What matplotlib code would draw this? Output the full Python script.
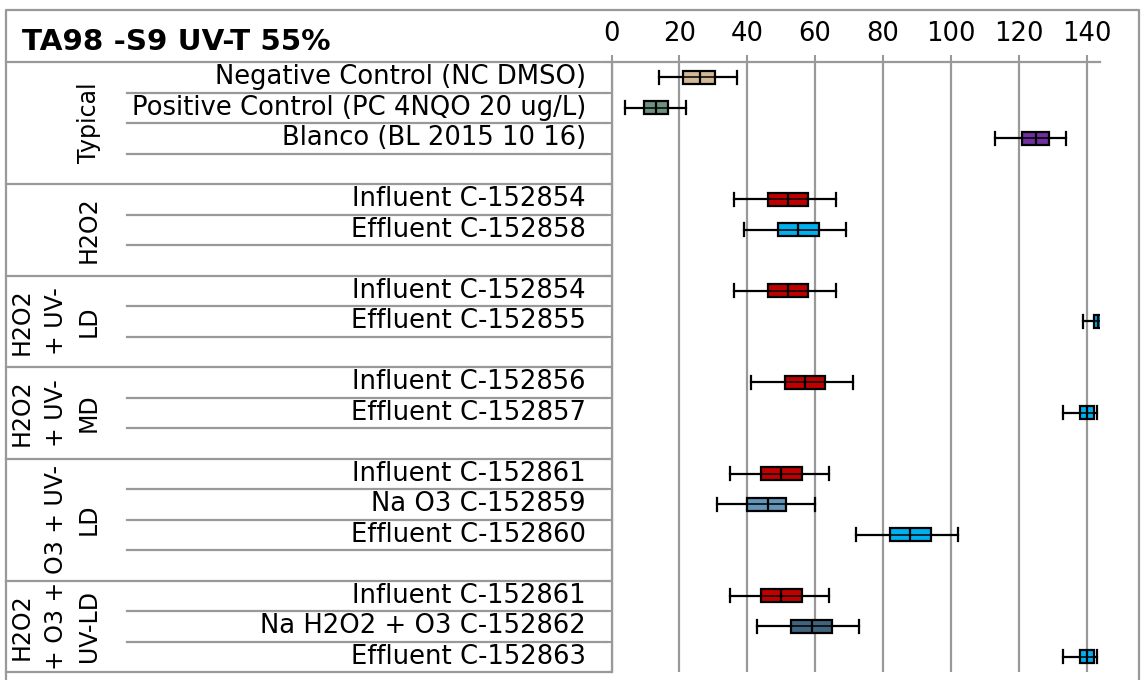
import matplotlib.pyplot as plt
from matplotlib.transforms import blended_transform_factory
from matplotlib.lines import Line2D

plt.rcParams['font.family'] = ['DejaVu Sans']

title = "TA98 -S9 UV-T 55%"

# groups and the rows inside each group ("" = spacer row)
groups = ["Typical", "H2O2", "H2O2\n+ UV-\nLD", "H2O2\n+ UV-\nMD",
          "O3 + UV-\nLD", "H2O2\n+ O3 +\nUV-LD"]
group_rows = [
    ["Negative Control (NC DMSO)", "Positive Control (PC 4NQO 20 ug/L)",
     "Blanco (BL 2015 10 16)", ""],
    ["Influent C-152854", "Effluent C-152858", ""],
    ["Influent C-152854", "Effluent C-152855", ""],
    ["Influent C-152856", "Effluent C-152857", ""],
    ["Influent C-152861", "Na O3 C-152859", "Effluent C-152860", ""],
    ["Influent C-152861", "Na H2O2 + O3 C-152862", "Effluent C-152863"],
]

# box statistics for each non-empty row, top to bottom
whis_lo = [14, 4, 113, 36, 39, 36, 139, 41, 133, 35, 31, 72, 35, 43, 133]
q1 = [21.2, 9.5, 121, 46, 49, 46, 142, 51, 138, 44, 40, 82, 44, 53, 138]
med = [26, 13, 125, 52, 55, 52, 143.2, 57, 140, 50, 46, 88, 50, 59, 140]
q3 = [30.5, 16.5, 129, 58, 61, 58, 144.2, 63, 142, 56, 51.5, 94, 56, 65, 142]
whis_hi = [37, 22, 134, 66, 69, 66, 144.2, 71, 143, 64, 60, 102, 64, 73, 143]
colors = ["#D3B896", "#6E9180", "#7030A0", "#C00000", "#00B0F0",
          "#C00000", "#00B0F0", "#C00000", "#00B0F0", "#C00000",
          "#6396B8", "#00B0F0", "#C00000", "#41647E", "#00B0F0"]

W, H = 1141, 680
GRAY = "#999999"
FS = 18.6

fig = plt.figure(figsize=(W / 100, H / 100), dpi=100)
ax = fig.add_axes([611.5 / W, 1 - 672 / H, (1100 - 611.5) / W, 610 / H])

n_rows = sum(len(r) for r in group_rows)
ax.set_ylim(n_rows, 0)
ax.set_xlim(0, 143.9)

# positions of the filled rows
positions = []
r = 0
for rows in group_rows:
    for lab in rows:
        if lab:
            positions.append(r + 0.5)
        r += 1

stats = []
for i in range(len(positions)):
    stats.append(dict(whislo=whis_lo[i], q1=q1[i], med=med[i], q3=q3[i],
                      whishi=whis_hi[i], fliers=[]))

bp = ax.bxp(stats, positions=positions, widths=0.42, vert=False,
            patch_artist=True, showfliers=False, capwidths=0.42,
            boxprops=dict(edgecolor="black", linewidth=1.6),
            whiskerprops=dict(color="black", linewidth=1.6),
            capprops=dict(color="black", linewidth=1.6),
            medianprops=dict(color="black", linewidth=1.6),
            manage_ticks=False, zorder=3)
for box, c in zip(bp['boxes'], colors):
    box.set_facecolor(c)
ax.hlines(positions, q1, q3, color="black", linewidth=1.1, zorder=4)

# axes styling
ax.xaxis.tick_top()
ax.set_xticks(range(0, 141, 20))
ax.tick_params(axis='x', direction='out', length=5, width=1.5, color=GRAY,
               labelsize=FS, pad=6)
ax.set_yticks(range(n_rows + 1))
ax.set_yticklabels([])
ax.tick_params(axis='y', direction='out', length=4, width=1.5, color=GRAY)
ax.grid(axis='x', color=GRAY, linewidth=1.6, zorder=0)
ax.set_axisbelow(True)
for s in ['right', 'bottom']:
    ax.spines[s].set_visible(False)
for s in ['top', 'left']:
    ax.spines[s].set_color(GRAY)
    ax.spines[s].set_linewidth(1.6)

# table part on the left
tr = blended_transform_factory(fig.transFigure, ax.transData)
r = 0
for g, rows in zip(groups, group_rows):
    start = r
    for k, lab in enumerate(rows):
        if lab:
            ax.text(586 / W, r + 0.5, lab, transform=tr, ha='right',
                    va='center', fontsize=FS, clip_on=False)
        r += 1
        if r < start + len(rows):
            ax.add_line(Line2D([127 / W, 607 / W], [r, r], transform=tr,
                               color=GRAY, linewidth=1.6, clip_on=False))
    ax.add_line(Line2D([6 / W, 611 / W], [r, r], transform=tr,
                       color=GRAY, linewidth=1.6, clip_on=False))
    ax.text(101 / W, (start + r) / 2, g, transform=tr, rotation=90,
            ha='right', va='center', multialignment='center',
            fontsize=17, linespacing=1.5, clip_on=False)

# header separator and outer frame
ax.add_line(Line2D([6 / W, 611 / W], [0, 0], transform=tr,
                   color=GRAY, linewidth=1.6, clip_on=False))
fig.add_artist(Line2D([6 / W, 6 / W, 1139 / W, 1139 / W],
                      [-0.1, 1 - 10 / H, 1 - 10 / H, -0.1],
                      color=GRAY, linewidth=1.6))

fig.text(22 / W, 1 - 42 / H, title, fontsize=21.2, fontweight='bold',
         ha='left', va='center')

fig.savefig("out.png", dpi=100)
